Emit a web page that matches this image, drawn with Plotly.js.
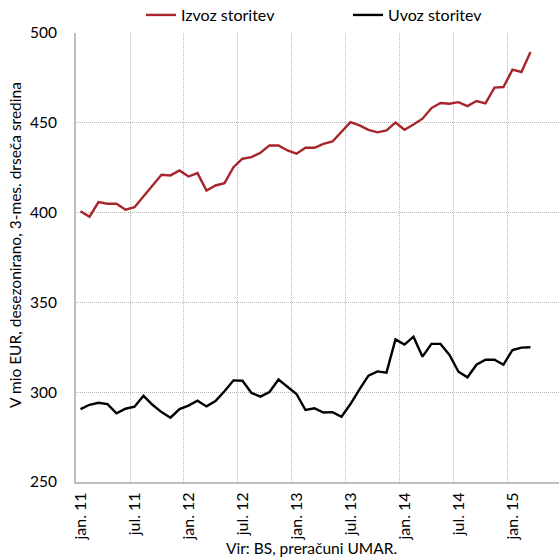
<!DOCTYPE html>
<html>
<head>
<meta charset="utf-8">
<script src="https://cdn.plot.ly/plotly-3.0.1.min.js"></script>
<style>
html,body{margin:0;padding:0;background:#fff;}
#chart{width:559px;height:559px;}
</style>
</head>
<body>
<div id="chart"></div>
<script>
const months = [
  "jan. 11","feb. 11","mar. 11","apr. 11","maj. 11","jun. 11","jul. 11","avg. 11","sep. 11","okt. 11","nov. 11","dec. 11",
  "jan. 12","feb. 12","mar. 12","apr. 12","maj. 12","jun. 12","jul. 12","avg. 12","sep. 12","okt. 12","nov. 12","dec. 12",
  "jan. 13","feb. 13","mar. 13","apr. 13","maj. 13","jun. 13","jul. 13","avg. 13","sep. 13","okt. 13","nov. 13","dec. 13",
  "jan. 14","feb. 14","mar. 14","apr. 14","maj. 14","jun. 14","jul. 14","avg. 14","sep. 14","okt. 14","nov. 14","dec. 14",
  "jan. 15","feb. 15","mar. 15"
];
const izvoz = [
  400.8,397.7,405.8,404.9,404.9,401.6,403.0,409.1,415.3,421.1,420.7,423.5,
  420.1,422.0,412.3,415.1,416.4,425.3,430.0,430.9,433.3,437.4,437.4,434.6,
  432.8,436.1,436.1,438.3,439.6,444.8,450.4,448.6,446.1,444.7,445.8,450.1,
  446.1,449.1,452.3,458.2,461.0,460.6,461.5,459.3,462.1,460.8,469.6,469.9,
  479.6,478.3,489.4
];
const uvoz = [
  290.6,293.0,294.1,293.4,288.2,290.8,291.9,298.0,293.0,288.9,285.8,290.6,
  292.5,295.3,292.1,295.1,300.5,306.6,306.4,299.6,297.5,300.1,307.1,303.1,
  299.0,290.1,291.0,288.7,288.9,286.3,293.4,301.6,309.2,311.6,310.9,329.4,
  326.5,330.9,319.8,326.9,326.9,320.7,311.4,308.3,315.3,318.1,318.1,315.3,
  323.5,324.8,325.0
];
const seriesNames = ["Izvoz storitev","Uvoz storitev"];
const yTicks = [250,300,350,400,450,500];
const yTitle = "V mio EUR, desezonirano, 3-mes. drseča sredina";
const xTitle = "Vir: BS, preračuni UMAR.";

const FONT = "Lato, 'Open Sans', sans-serif";

const traces = [
  {x: months, y: izvoz, name: seriesNames[0], type: "scatter", mode: "lines",
   line: {color: "#a6262b", width: 2.4}},
  {x: months, y: uvoz, name: seriesNames[1], type: "scatter", mode: "lines",
   line: {color: "#000000", width: 2.4}}
];

const layout = {
  width: 559, height: 559,
  margin: {l: 76, r: 0, t: 33, b: 77, pad: 0, autoexpand: false},
  paper_bgcolor: "#ffffff", plot_bgcolor: "#ffffff",
  font: {family: FONT, size: 15, color: "#000"},
  showlegend: true,
  legend: {orientation: "h", x: 0.1346, xanchor: "left", y: 1.04, yanchor: "middle",
           font: {family: FONT, size: 16, color: "#000"}, entrywidth: 162, bgcolor: "rgba(0,0,0,0)"},
  xaxis: {
    type: "category", categoryorder: "array", categoryarray: months,
    range: [-0.5, 53.17],
    tickmode: "linear", tick0: 0, dtick: 6, tickson: "boundaries",
    tickangle: -90, ticks: "", ticklabelstandoff: 2,
    showgrid: true, gridcolor: "#b8b8b8", griddash: "1px,1px", gridwidth: 1,
    showline: true, linecolor: "#bfbfbf", linewidth: 2,
    tickfont: {family: FONT, size: 16, color: "#000"},
    zeroline: false, fixedrange: true, automargin: false
  },
  yaxis: {
    range: [250, 500], tickmode: "array", tickvals: yTicks,
    ticks: "", ticklabelstandoff: 14,
    showgrid: true, gridcolor: "#b8b8b8", griddash: "1px,1px", gridwidth: 1,
    showline: true, linecolor: "#bfbfbf", linewidth: 2,
    tickfont: {family: FONT, size: 15.5, color: "#000"},
    zeroline: false, fixedrange: true, automargin: false
  },
  annotations: [
    {text: xTitle, xref: "paper", yref: "paper", x: 0.488, y: -0.148, xanchor: "center", yanchor: "middle",
     showarrow: false, font: {family: FONT, size: 15.5, color: "#000"}},
    {text: yTitle, xref: "paper", yref: "paper", x: -0.1253, y: 0.529, xanchor: "center", yanchor: "middle",
     textangle: -90, showarrow: false, font: {family: FONT, size: 15.5, color: "#000"}}
  ]
};

Plotly.newPlot("chart", traces, layout, {displayModeBar: false, staticPlot: true});
</script>
</body>
</html>
